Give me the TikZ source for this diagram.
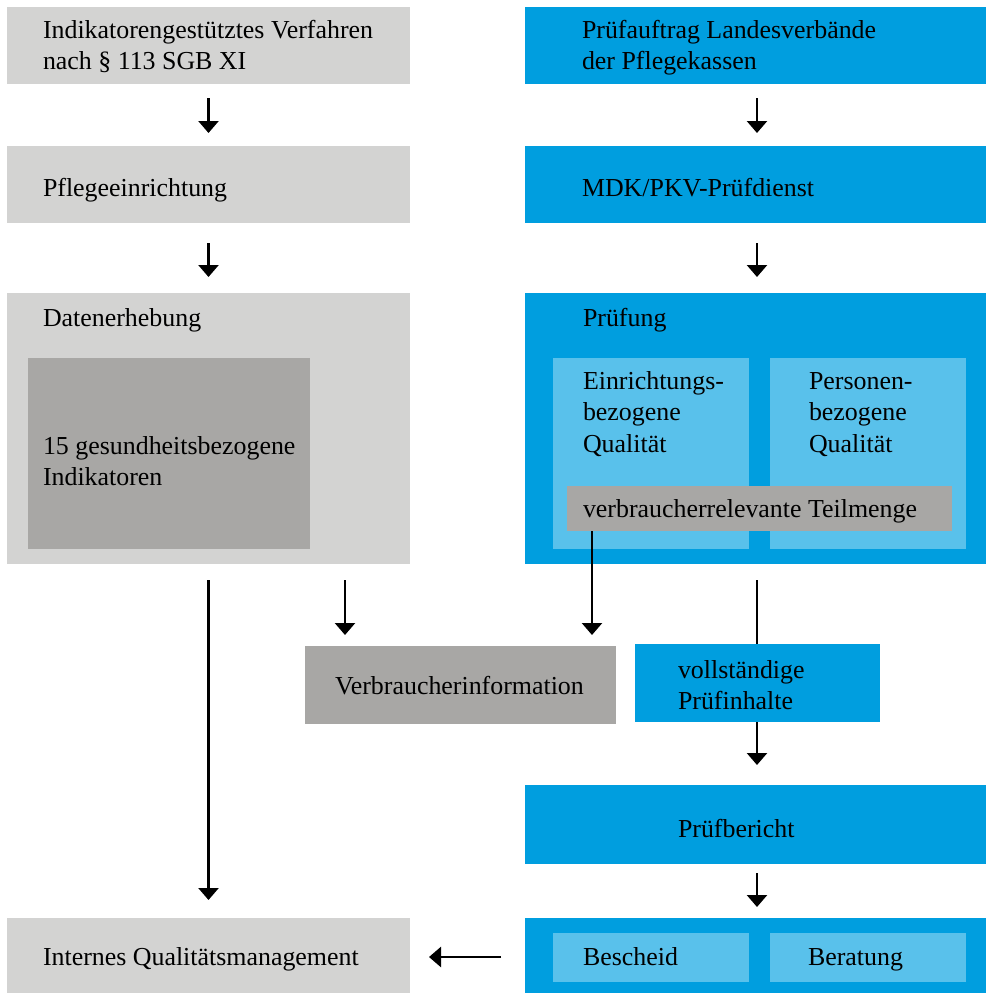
\documentclass[tikz,border=0pt]{standalone}
\usepackage{fontspec}
\setmainfont{Liberation Serif}
\usetikzlibrary{arrows.meta}
\definecolor{lgray}{RGB}{211,211,210}
\definecolor{dgray}{RGB}{168,167,165}
\definecolor{mblue}{RGB}{0,158,223}
\definecolor{lblue}{RGB}{89,193,235}
\newcommand{\ml}[1]{\begin{tabular}[t]{@{}l@{}}#1\end{tabular}}
\tikzset{
  box/.style={draw=none, inner sep=0pt, outer sep=0pt, anchor=north west, minimum width=#1},
  lg/.style={box=#1, fill=lgray},
  dg/.style={box=#1, fill=dgray},
  bl/.style={box=#1, fill=mblue},
  lb/.style={box=#1, fill=lblue},
  txt/.style={anchor=base west, inner sep=0pt, outer sep=0pt, text=black, font=\fontsize{25.9}{31.5}\selectfont},
  arr/.style={line width=2.5pt, -{Triangle[width=20pt,length=12pt]}},
  ln/.style={line width=2.5pt}
}
\begin{document}
\begin{tikzpicture}[x=1pt,y=-1pt]
\useasboundingbox (0,0) rectangle (986,993);
% boxes
\node[lg=403pt, minimum height=77pt] (a1) at (7,7) {};
\node[bl=461pt, minimum height=77pt] (b1) at (525,7) {};
\node[lg=403pt, minimum height=77pt] (a2) at (7,146) {};
\node[bl=461pt, minimum height=77pt] (b2) at (525,146) {};
\node[lg=403pt, minimum height=271pt] (a3) at (7,293) {};
\node[dg=282pt, minimum height=191pt] (a3i) at (28,358) {};
\node[bl=461pt, minimum height=271pt] (b3) at (525,293) {};
\node[lb=196pt, minimum height=191pt] (b3l) at (553,358) {};
\node[lb=196pt, minimum height=191pt] (b3r) at (770,358) {};
\node[dg=385pt, minimum height=45pt] (tm) at (567,486) {};
\node[dg=311pt, minimum height=78pt] (vi) at (305,646) {};
\node[bl=461pt, minimum height=79pt] (pb) at (525,785) {};
\node[lg=403pt, minimum height=75pt] (iq) at (7,918) {};
\node[bl=461pt, minimum height=75pt] (bb) at (525,918) {};
\node[lb=196pt, minimum height=49pt] (bs) at (553,933) {};
\node[lb=196pt, minimum height=49pt] (br) at (770,933) {};
% line behind "vollstaendige Pruefinhalte"
\draw[arr] ([xshift=1.5pt,yshift=-16pt]b3.south) -- ([xshift=1.5pt,yshift=20pt]pb.north);
\node[bl=245pt, minimum height=78pt] (vp) at (635,644) {};
% texts
\node[txt] (t-a1) at (43,38) {\ml{Indikatorengestütztes Verfahren\\nach § 113 SGB XI}};
\node[txt] (t-b1) at (582,38) {\ml{Prüfauftrag Landesverbände\\der Pflegekassen}};
\node[txt] (t-a2) at (43,196) {Pflegeeinrichtung};
\node[txt] (t-b2) at (582,196) {MDK/PKV-Prüfdienst};
\node[txt] (t-a3) at (43,326) {Datenerhebung};
\node[txt] (t-a3i) at (43,454) {\ml{15 gesundheitsbezogene\\Indikatoren}};
\node[txt] (t-b3) at (583,326) {Prüfung};
\node[txt] (t-b3l) at (583,389) {\ml{Einrichtungs-\\bezogene\\Qualität}};
\node[txt] (t-b3r) at (809,389) {\ml{Personen-\\bezogene\\Qualität}};
\node[txt] (t-tm) at (583,517) {verbraucherrelevante Teilmenge};
\node[txt] (t-vi) at (335,694) {Verbraucherinformation};
\node[txt] (t-vp) at (678,678) {\ml{vollständige\\Prüfinhalte}};
\node[txt] (t-pb) at (678,837) {Prüfbericht};
\node[txt] (t-iq) at (43,965) {Internes Qualitätsmanagement};
\node[txt] (t-bs) at (583,965) {Bescheid};
\node[txt] (t-br) at (808,965) {Beratung};
% connectors
\draw[arr] ([yshift=-14pt]a1.south) -- ([yshift=13pt]a2.north);
\draw[arr] ([xshift=1.5pt,yshift=-14pt]b1.south) -- ([xshift=1.5pt,yshift=13pt]b2.north);
\draw[arr] ([yshift=-20pt]a2.south) -- ([yshift=16pt]a3.north);
\draw[arr] ([xshift=1.5pt,yshift=-20pt]b2.south) -- ([xshift=1.5pt,yshift=16pt]b3.north);
\draw[arr] ([yshift=-16pt]a3.south) -- ([yshift=18pt]iq.north);
\draw[arr] ([xshift=338pt,yshift=-16pt]a3.south west) -- ([xshift=40pt,yshift=11pt]vi.north west);
\draw[arr] ([xshift=25pt]tm.south west) -- ([xshift=287pt,yshift=11pt]vi.north west);
\draw[arr] ([xshift=1.5pt,yshift=-9pt]pb.south) -- ([xshift=1.5pt,yshift=11pt]bb.north);
\draw[arr] ([xshift=-24pt,yshift=-1.5pt]bb.west) -- ([xshift=19pt,yshift=-1.5pt]iq.east);
\end{tikzpicture}
\end{document}
